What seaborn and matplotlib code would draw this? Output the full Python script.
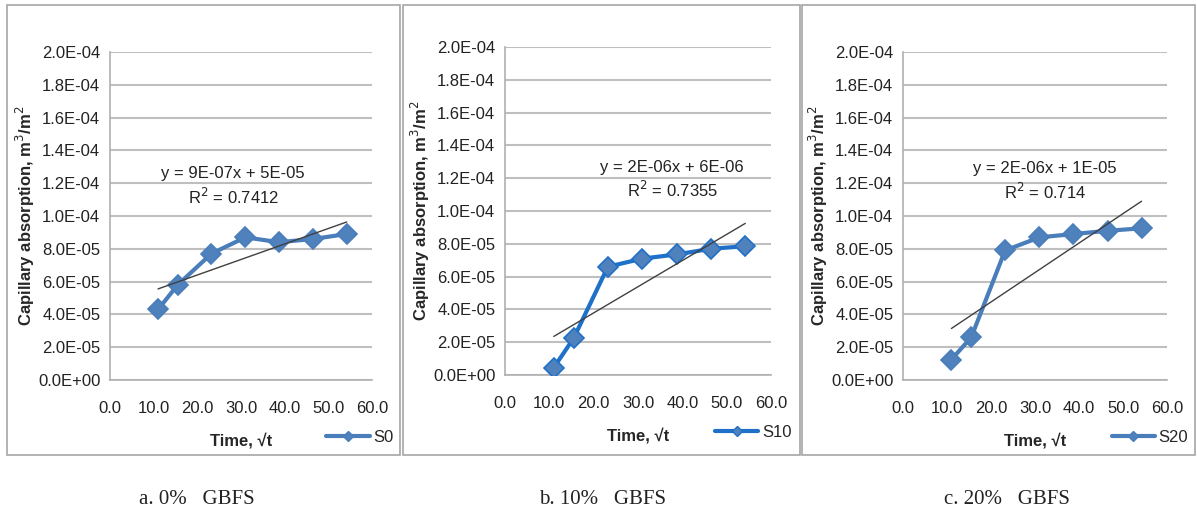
import matplotlib
matplotlib.use("Agg")
import matplotlib.pyplot as plt
import seaborn as sns
import pandas as pd
import numpy as np
from matplotlib.patches import Rectangle
from matplotlib.lines import Line2D
from matplotlib.ticker import FuncFormatter

# data
sqrt_t = [11.0, 15.5, 23.2, 31.0, 38.7, 46.5, 54.2]
s0 = [4.3e-5, 5.8e-5, 7.7e-5, 8.7e-5, 8.4e-5, 8.6e-5, 8.9e-5]
s10 = [0.45e-5, 2.25e-5, 6.6e-5, 7.1e-5, 7.35e-5, 7.7e-5, 7.85e-5]
s20 = [1.25e-5, 2.6e-5, 7.9e-5, 8.7e-5, 8.9e-5, 9.1e-5, 9.25e-5]
series_names = ["S0", "S10", "S20"]
equations = ["y = 9E-07x + 5E-05\nR$^2$ = 0.7412",
             "y = 2E-06x + 6E-06\nR$^2$ = 0.7355",
             "y = 2E-06x + 1E-05\nR$^2$ = 0.714"]
captions = ["a. 0%   GBFS", "b. 10%   GBFS", "c. 20%   GBFS"]

sns.set_style("white")
plt.rcParams['font.family'] = ['Liberation Sans', 'DejaVu Sans']

fig = plt.figure(figsize=(11.97, 5.21), dpi=100)

# axes boxes (left, bottom, width, height) in figure fraction
boxes = [(0.0919, 0.2706, 0.2189, 0.6296),
         (0.4219, 0.2802, 0.2222, 0.6296),
         (0.7544, 0.2706, 0.2206, 0.6296)]
frames = [(7, 400), (403, 800), (802, 1195)]
line_cols = ["#4a7ebb", "#1f70c8", "#4a7ebb"]
eq_pos = [(28.2, 1.18e-4), (37.7, 1.19e-4), (32.3, 1.21e-4)]
leg_x = [0.80, 0.765, 0.765]
cap_x = [197, 603, 1007]

W, H = 1197, 521
sci = FuncFormatter(lambda v, p: f"{v:.1E}")

for i, ys in enumerate([s0, s10, s20]):
    # panel frame
    x0, x1 = frames[i]
    fig.patches.append(Rectangle((x0 / W, 1 - 455 / H), (x1 - x0) / W, 450 / H,
                                 transform=fig.transFigure, fill=False,
                                 edgecolor="#a6a6a6", lw=1.2))
    ax = fig.add_axes(boxes[i])
    df = pd.DataFrame({"x": sqrt_t, "y": ys})
    sns.lineplot(data=df, x="x", y="y", ax=ax, color=line_cols[i], lw=3,
                 marker="D", markersize=10, markerfacecolor="#4f81bd",
                 markeredgecolor=line_cols[i], markeredgewidth=1.2, zorder=3)
    sns.regplot(data=df, x="x", y="y", ax=ax, scatter=False, ci=None,
                color="#404040", line_kws={"lw": 1, "zorder": 4})
    ax.set_xlim(0, 60)
    ax.set_ylim(0, 2.0e-4)
    ax.set_xticks(np.arange(0, 61, 10))
    ax.set_yticks(np.arange(0, 2.01e-4, 2e-5))
    ax.xaxis.set_major_formatter(FuncFormatter(lambda v, p: f"{v:.1f}"))
    ax.yaxis.set_major_formatter(sci)
    ax.yaxis.grid(True, color="#bfbfbf", lw=1.5)
    ax.set_axisbelow(True)
    for s in ["top", "right"]:
        ax.spines[s].set_visible(False)
    for s in ["left", "bottom"]:
        ax.spines[s].set_color("#b0b0b0")
        ax.spines[s].set_linewidth(1.2)
    ax.tick_params(axis="both", direction="out", length=5, width=1.2,
                   color="#b0b0b0", labelsize=12, labelcolor="#222222", pad=2)
    ax.tick_params(axis="x", pad=10)
    ax.set_xlabel("Time, \u221at", fontsize=12, fontweight="bold", labelpad=12)
    ax.set_ylabel("Capillary absorption, m$^3$/m$^2$", fontsize=12,
                  fontweight="bold", labelpad=1)
    ax.text(eq_pos[i][0], eq_pos[i][1], equations[i], ha="center", va="center",
            fontsize=12, color="#222222", linespacing=1.3)
    handle = Line2D([], [], color=line_cols[i], lw=3, marker="D", markersize=5,
                    markerfacecolor="#4f81bd", markeredgecolor=line_cols[i])
    ax.legend([handle], [series_names[i]], loc="center left",
              bbox_to_anchor=(leg_x[i], -0.175), frameon=False, fontsize=12,
              handlelength=2.6, handletextpad=0.2, borderaxespad=0)
    fig.text(cap_x[i] / W, 1 - 500 / H, captions[i], ha="center", va="center",
             family="Liberation Serif", fontsize=15, color="#222222")

fig.savefig("out.png", dpi=100)
